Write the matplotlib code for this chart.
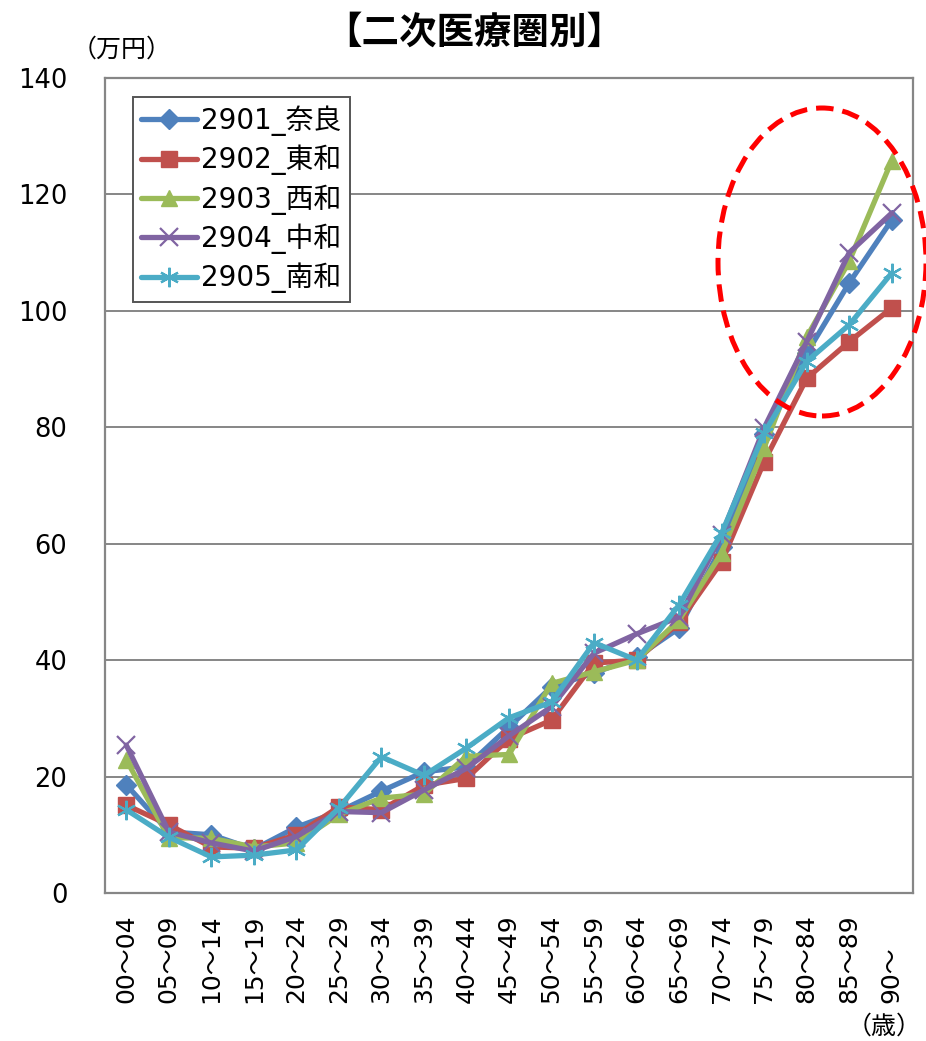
import matplotlib
matplotlib.use("Agg")
import matplotlib.pyplot as plt
from matplotlib.patches import Ellipse

plt.rcParams['font.family'] = ['DejaVu Sans', 'Noto Sans CJK JP']

ages = ["00～04", "05～09", "10～14", "15～19", "20～24", "25～29", "30～34",
        "35～39", "40～44", "45～49", "50～54", "55～59", "60～64", "65～69",
        "70～74", "75～79", "80～84", "85～89", "90～"]

nara = [18.6, 10.5, 10.0, 7.5, 11.3, 14.0, 17.5, 20.8, 21.7, 28.5, 35.4,
        37.8, 40.5, 45.5, 59.5, 78.8, 92.7, 104.8, 115.6]
towa = [15.1, 11.7, 7.9, 7.7, 10.0, 14.8, 14.3, 18.5, 19.7, 26.5, 29.7,
        39.5, 40.0, 46.5, 56.9, 74.1, 88.4, 94.7, 100.5]
seiwa = [22.9, 9.5, 9.4, 7.9, 8.6, 13.5, 16.3, 17.0, 23.5, 23.8, 36.0,
         38.0, 40.0, 46.9, 58.4, 76.5, 95.5, 108.5, 125.8]
chuwa = [25.4, 10.5, 8.6, 7.2, 9.7, 14.0, 13.8, 17.7, 21.4, 27.0, 32.0,
         41.2, 44.5, 47.4, 61.5, 79.9, 94.7, 110.0, 116.8]
nanwa = [14.3, 9.6, 6.2, 6.5, 7.4, 14.6, 23.4, 20.2, 24.9, 30.1, 32.8,
         43.0, 40.0, 49.5, 61.8, 79.0, 91.3, 97.6, 106.5]

series = [
    ("2901_奈良", nara, "#4F81BD", "D", 10.5, 1),
    ("2902_東和", towa, "#C0504D", "s", 11, 1),
    ("2903_西和", seiwa, "#9BBB59", "^", 12, 1),
    ("2904_中和", chuwa, "#8064A2", "x", 13, 1.6),
    ("2905_南和", nanwa, "#4BACC6", (6, 2, 0), 14, 1.6),
]

fig = plt.figure(figsize=(9.26, 10.41), dpi=100)
ax = fig.add_axes([105 / 926, 1 - 893 / 1041, 808 / 926, 815 / 1041])

x = list(range(len(ages)))
for name, vals, col, mk, ms, mew in series:
    ax.plot(x, vals, color=col, lw=3.8, marker=mk, markersize=ms,
            markeredgewidth=mew, markeredgecolor=col, label=name,
            solid_capstyle='round', solid_joinstyle='round')

ax.set_xlim(-0.5, len(ages) - 0.5)
ax.set_ylim(0, 140)
ax.set_yticks(range(0, 141, 20))
ax.yaxis.grid(True, color="#868686", lw=1.4)
ax.set_axisbelow(True)
for sp in ax.spines.values():
    sp.set_color("#868686")
    sp.set_linewidth(1.6)

ax.set_xticks(x)
ax.set_xticklabels(ages, rotation=90, ha='left', va='center',
                   rotation_mode='anchor')
ax.tick_params(axis='x', length=0, pad=79, labelsize=18)
ax.tick_params(axis='y', length=0, pad=27, labelsize=18.5)

leg = ax.legend(loc='upper left', bbox_to_anchor=(28 / 808, 1 - 19 / 815),
                fontsize=20, frameon=True, fancybox=False, framealpha=1,
                edgecolor="#555555", handlelength=2.0, labelspacing=0.32,
                handletextpad=0.15, borderpad=0.3, borderaxespad=0)
leg.get_frame().set_linewidth(1.4)

fig.text(474 / 926, 1 - 32 / 1041, "【二次医療圏別】", fontsize=27,
         fontweight='bold', ha='center', va='center',
         family=['Noto Sans CJK JP'])
fig.text(122 / 926, 1 - 50 / 1041, "（万円）", fontsize=18, ha='center',
         va='center', family=['Noto Sans CJK JP'])
fig.text(884 / 926, 1 - 1027 / 1041, "（歳）", fontsize=18, ha='center',
         va='center', family=['Noto Sans CJK JP'])

ell = Ellipse((822 / 926, 1 - 262 / 1041), 208 / 926, 308 / 1041,
              transform=fig.transFigure, fill=False, edgecolor="#FF0000",
              lw=3.6, linestyle=(0, (3.5, 1.8)), clip_on=False)
fig.add_artist(ell)

fig.savefig("out.png", dpi=100)
